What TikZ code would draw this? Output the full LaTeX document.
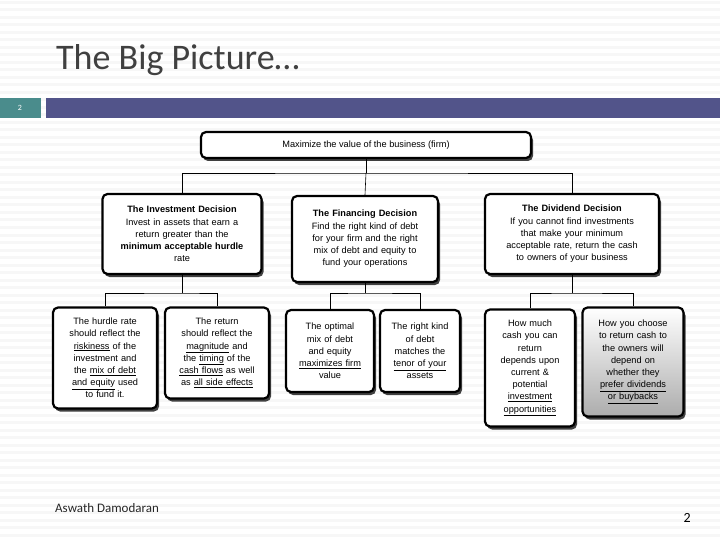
\documentclass[tikz,border=0pt]{standalone}
\usepackage{fontspec}
\setmainfont{Liberation Sans}
\newfontfamily\titlefont{Carlito}
\usetikzlibrary{shadows}
\definecolor{barpurple}{RGB}{82,84,138}
\definecolor{barteal}{RGB}{74,140,140}
\begin{document}
\begin{tikzpicture}[x=1pt,y=-1pt,
  box/.style={draw=black,line width=2.2pt,rounded corners=5pt,fill=white,align=center,
    inner sep=2pt,font=\fontsize{9.2}{12.2}\selectfont,
    drop shadow={shadow xshift=2pt,shadow yshift=-3pt,fill=black!75,opacity=1}},
  conn/.style={draw=black,line width=0.6pt}]
\useasboundingbox (0,0) rectangle (720,540);
\fill[white] (0,0) rectangle (720,540);
\foreach \i in {0,...,71} {\fill[gray!6] (0,\i*7.5+1) rectangle (720,\i*7.5+4);}
\node[anchor=base west,font=\titlefont\fontsize{36}{36}\selectfont,text=black!75,inner sep=0] (title) at (56,70) {The Big Picture…};
\fill[barteal] (0,98) rectangle (41,118);
\fill[barpurple] (46,98) rectangle (720,118);
\node[font=\titlefont\fontsize{8}{8}\selectfont,text=white] (num) at (20,108) {2};
% top
\node[box,minimum width=330,minimum height=26,font=\fontsize{9.2}{10}\selectfont] (top) at (366,145) {Maximize the value of the business (firm)};
% level 2
\node[box,minimum width=157,minimum height=80,text width=155] (inv) at (182,234) {\textbf{The Investment Decision}\\Invest in assets that earn a\\return greater than the\\\textbf{minimum acceptable hurdle}\\rate};
\node[box,minimum width=144,minimum height=86,text width=142] (fin) at (365,239) {\textbf{The Financing Decision}\\Find the right kind of debt\\for your firm and the right\\mix of debt and equity to\\fund your operations};
\node[box,minimum width=173,minimum height=80,text width=170] (div) at (572,234) {\textbf{The Dividend Decision}\\If you cannot find investments\\that make your minimum\\acceptable rate, return the cash\\to owners of your business};
% level 3
\node[box,minimum width=103,minimum height=101,text width=100] (b1) at (105,358) {The hurdle rate\\should reflect the\\\underline{riskiness} of the\\investment and\\the \underline{mix of debt}\\\underline{and equity} used\\to fund it.};
\node[box,minimum width=103,minimum height=91,text width=100] (b2) at (217,353) {The return\\should reflect the\\\underline{magnitude} and\\the \underline{timing} of the\\\underline{cash flows} as well\\as \underline{all side effects}};
\node[box,minimum width=86,minimum height=82,text width=84] (b3) at (330,351) {The optimal\\mix of debt\\and equity\\\underline{maximizes firm}\\value};
\node[box,minimum width=78,minimum height=82,text width=76] (b4) at (420,351) {The right kind\\of debt\\matches the\\\underline{tenor of your}\\assets};
\node[box,minimum width=89,minimum height=117,text width=86] (b5) at (530,368) {How much\\cash you can\\return\\depends upon\\current \&\\potential\\\underline{investment}\\\underline{opportunities}};
\node[box,minimum width=100,minimum height=109,text width=97,top color=white,bottom color=gray!65] (b6) at (633,362) {How you choose\\to return cash to\\the owners will\\depend on\\whether they\\\underline{prefer dividends}\\\underline{or buybacks}};
% connectors
\coordinate (j0) at (366,173);
\draw[conn] (top.south) -- (j0);
\draw[conn] (inv.north) |- (j0) -| (div.north);
\draw[conn] (j0) -- (fin.north);
\coordinate (j1) at (182,293);
\coordinate (j2) at (365,293);
\coordinate (j3) at (572,293);
\draw[conn] (inv.south) -- (j1);
\draw[conn] (b1.north) |- (j1) -| (b2.north);
\draw[conn] (fin.south) -- (j2);
\draw[conn] (b3.north) |- (j2) -| (b4.north);
\draw[conn] (div.south) -- (j3);
\draw[conn] (b5.north) |- (j3) -| (b6.north);
% footer
\node[anchor=base west,font=\titlefont\fontsize{13}{13}\selectfont,text=black!85,inner sep=0] (author) at (55,512) {Aswath Damodaran};
\node[anchor=base east,font=\titlefont\fontsize{14}{14}\selectfont,inner sep=0] (page) at (691,522) {2};
\end{tikzpicture}
\end{document}
